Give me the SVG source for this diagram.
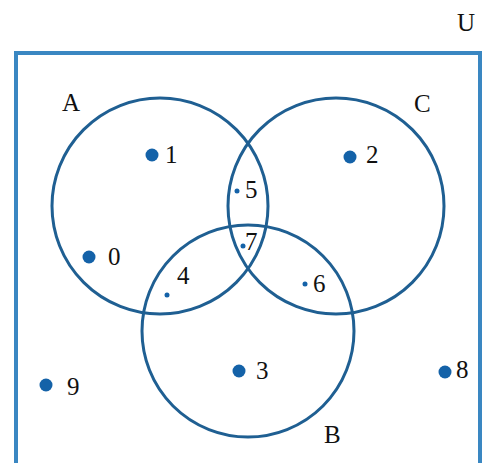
<svg xmlns="http://www.w3.org/2000/svg" width="487" height="463" viewBox="0 0 487 463">
<style>
.set{fill:none;stroke:#1f5f92;stroke-width:3}
.dot{fill:#1462a8}
.lbl{font-family:"Liberation Serif",serif;font-size:25px;fill:#111}
</style>
<rect width="487" height="463" fill="#fff"/>
<text class="lbl" x="457" y="31">U</text>
<rect id="universe" x="16" y="53" width="464" height="420" fill="none" stroke="#3a87c2" stroke-width="4"/>
<g id="sets">
<g id="setA"><circle class="set" cx="160" cy="206" r="108"/><text class="lbl" x="62" y="111">A</text></g>
<g id="setC"><circle class="set" cx="336" cy="206" r="108"/><text class="lbl" x="414" y="112">C</text></g>
<g id="setB"><circle class="set" cx="248" cy="331" r="106"/><text class="lbl" x="324" y="443">B</text></g>
</g>
<g id="elements">
<g id="e1"><circle class="dot" cx="152" cy="155" r="6.5"/><text class="lbl" x="165" y="163">1</text></g>
<g id="e2"><circle class="dot" cx="350" cy="157" r="6.5"/><text class="lbl" x="366" y="163">2</text></g>
<g id="e5"><circle class="dot" cx="237" cy="191" r="2.5"/><text class="lbl" x="245" y="198">5</text></g>
<g id="e7"><circle class="dot" cx="243" cy="246" r="2.5"/><text class="lbl" x="245" y="250">7</text></g>
<g id="e0"><circle class="dot" cx="89" cy="257" r="6.5"/><text class="lbl" x="108" y="265">0</text></g>
<g id="e4"><circle class="dot" cx="167" cy="295" r="2.5"/><text class="lbl" x="177" y="284">4</text></g>
<g id="e6"><circle class="dot" cx="305" cy="284" r="2.5"/><text class="lbl" x="313" y="292">6</text></g>
<g id="e3"><circle class="dot" cx="239" cy="371" r="6.5"/><text class="lbl" x="256" y="379">3</text></g>
<g id="e8"><circle class="dot" cx="445" cy="372" r="6.5"/><text class="lbl" x="456" y="378">8</text></g>
<g id="e9"><circle class="dot" cx="46" cy="385" r="6.5"/><text class="lbl" x="67" y="395">9</text></g>
</g>
</svg>
